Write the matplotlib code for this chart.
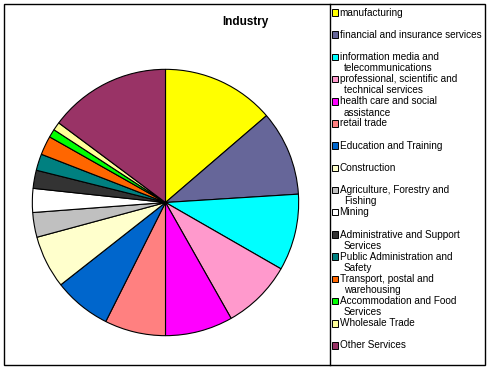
import matplotlib
matplotlib.use("Agg")
import matplotlib.pyplot as plt
from matplotlib.patches import Rectangle
from matplotlib.lines import Line2D

plt.rcParams['font.family'] = ['Liberation Sans', 'DejaVu Sans']

categories = [
    "manufacturing",
    "financial and insurance services",
    "information media and\ntelecommunications",
    "professional, scientific and\ntechnical services",
    "health care and social\nassistance",
    "retail trade",
    "Education and Training",
    "Construction",
    "Agriculture, Forestry and\nFishing",
    "Mining",
    "Administrative and Support\nServices",
    "Public Administration and\nSafety",
    "Transport, postal and\nwarehousing",
    "Accommodation and Food\nServices",
    "Wholesale Trade",
    "Other Services",
]
values = [13.7, 10.3, 9.3, 8.5, 8.2, 7.4, 7.0, 6.4, 3.0, 2.9, 2.2, 2.0, 2.3, 1.0, 1.0, 14.8]
colors = ["#FFFF00", "#666699", "#00FFFF", "#FF99CC", "#FF00FF", "#FF8080",
          "#0066CC", "#FFFFCC", "#C0C0C0", "#FFFFFF", "#333333", "#008080",
          "#FF6600", "#00FF00", "#FFFF99", "#993366"]
title = "Industry"

W, H = 492, 370
fig = plt.figure(figsize=(W / 100, H / 100), dpi=100)

def fx(px):
    return px / W

def fy(py):
    return 1 - py / H

# Outer border and legend divider
fig.add_artist(Rectangle((fx(4), fy(365)), fx(485) - fx(4), fy(4) - fy(365),
                         transform=fig.transFigure, fill=False, edgecolor="black", lw=1.0))
fig.add_artist(Line2D([fx(330), fx(330)], [fy(4), fy(365)], transform=fig.transFigure,
                      color="black", lw=1.0))

# Pie
cx, cy, r = 165.5, 202.5, 134.5
ax = fig.add_axes([fx(cx - r), fy(cy + r), 2 * r / W, 2 * r / H])
ax.pie(values, colors=colors, startangle=90, counterclock=False, radius=1.0,
       wedgeprops=dict(edgecolor="black", linewidth=0.8))
ax.set_xlim(-1.01, 1.01)
ax.set_ylim(-1.01, 1.01)
ax.set_aspect("auto")
ax.axis("off")

fig.text(fx(245), fy(22), title, ha="center", va="center", fontsize=8.5, fontweight="bold")

# Legend
y0, dy = 12.5, 22.2
for i, (lab, col) in enumerate(zip(categories, colors)):
    y = y0 + i * dy
    fig.add_artist(Rectangle((fx(331.5), fy(y + 3.2)), 6.5 / W, 6.5 / H, transform=fig.transFigure,
                             facecolor=col, edgecolor="black", lw=0.7))
    lines = lab.split("\n")
    fig.text(fx(339.5), fy(y), lines[0], ha="left", va="center", fontsize=7.2)
    for j, ln in enumerate(lines[1:], start=1):
        fig.text(fx(344), fy(y + 11.3 * j), ln, ha="left", va="center", fontsize=7.2)

fig.savefig("out.png", dpi=100)
